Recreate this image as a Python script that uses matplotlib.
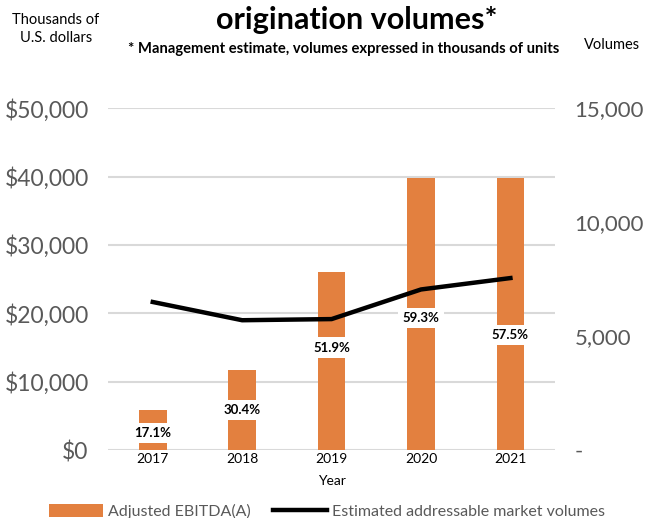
import numpy as np
import matplotlib
matplotlib.use("Agg")
import matplotlib.pyplot as plt
from matplotlib.lines import Line2D
from matplotlib.patches import Patch

plt.rcParams['font.family'] = ['Lato', 'DejaVu Sans']

# Data
years = ['2017', '2018', '2019', '2020', '2021']
ebitda = [5800, 11700, 26000, 39800, 39800]          # thousands of USD
volumes = [6500, 5700, 5750, 7050, 7550]             # thousands of units
margins = ['17.1%', '30.4%', '51.9%', '59.3%', '57.5%']
label_y = [2500, 5900, 15000, 19300, 16800]          # where the margin labels sit

bar_color = '#E3803F'
grey = '#595959'

fig = plt.figure(figsize=(6.47, 5.18), dpi=100)
ax = fig.add_axes([0.167, 0.131, 0.691, 0.660])
x = np.arange(len(years))

ax.bar(x, ebitda, width=0.31, color=bar_color, zorder=2)
ax.set_xlim(-0.5, len(years) - 0.5)
ax.set_ylim(0, 50000)
ax.set_yticks(np.arange(0, 50001, 10000))
ax.set_yticklabels([f'${v:,.0f}' for v in np.arange(0, 50001, 10000)], fontsize=16.5, color=grey)
ax.set_xticks(x)
ax.set_xticklabels(years, fontsize=10, color='black')
ax.tick_params(axis='both', length=0)
ax.tick_params(axis='x', pad=2)
ax.tick_params(axis='y', pad=14)
ax.grid(axis='y', color='#D9D9D9', linewidth=1.5, zorder=0)
ax.set_axisbelow(True)
for s in ax.spines.values():
    s.set_visible(False)
ax.set_xlabel('Year', fontsize=10, labelpad=7)

for xi, lab, ly in zip(x, margins, label_y):
    ax.text(xi, ly, lab, ha='center', va='center', fontsize=9.5, fontweight='bold',
            zorder=5, bbox=dict(facecolor='white', edgecolor='none', pad=3))

ax2 = ax.twinx()
ax2.plot(x, volumes, color='black', linewidth=3.2, zorder=4)
ax2.set_ylim(0, 15000)
ax2.set_yticks([0, 5000, 10000, 15000])
ax2.set_yticklabels(['-', '5,000', '10,000', '15,000'], fontsize=16, color=grey)
ax2.tick_params(axis='y', length=0, pad=14)
for s in ax2.spines.values():
    s.set_visible(False)

fig.text(0.552, 0.962, 'origination volumes*', ha='center', va='center', fontsize=22, fontweight='bold')
fig.text(0.198, 0.905, '* Management estimate, volumes expressed in thousands of units',
         ha='left', va='center', fontsize=10.6, fontweight='bold')
fig.text(0.086, 0.944, 'Thousands of\nU.S. dollars', ha='center', va='center', fontsize=10.5,
         linespacing=1.4)
fig.text(0.946, 0.913, 'Volumes', ha='center', va='center', fontsize=10.5)

handles = [Patch(facecolor=bar_color, edgecolor='none'),
           Line2D([0], [0], color='black', linewidth=3.2)]
fig.legend(handles, ['Adjusted EBITDA(A)', 'Estimated addressable market volumes'],
           loc='lower center', bbox_to_anchor=(0.505, -0.03), ncol=2, frameon=False,
           fontsize=11.5, labelcolor=grey, handlelength=3.4, handleheight=0.9,
           columnspacing=1.4, handletextpad=0.3)

fig.savefig('out.png', dpi=100)
